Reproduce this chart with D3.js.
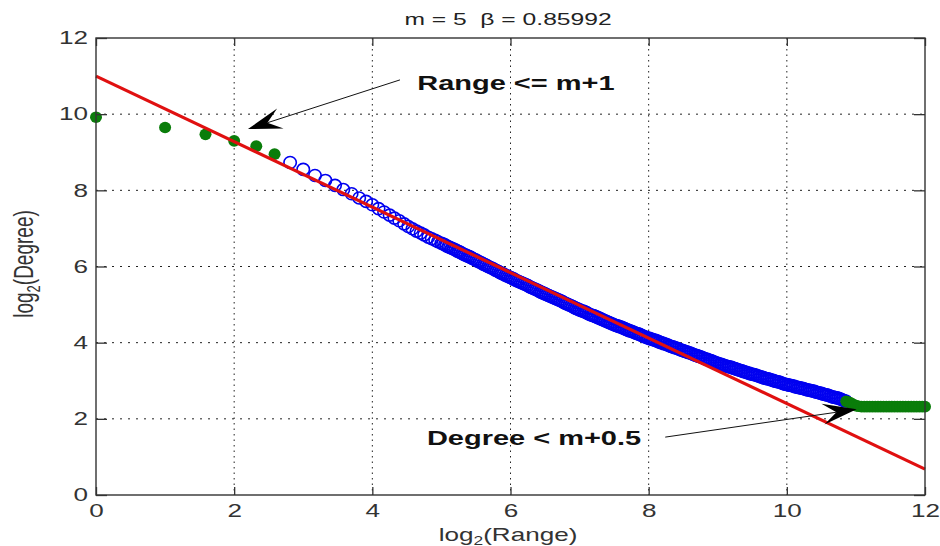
<!DOCTYPE html>
<html><head><meta charset="utf-8">
<script src="https://cdn.jsdelivr.net/npm/d3@7"></script>
<style>
body{margin:0;background:#fff}
svg{display:block;background:#fff}
text{font-family:"Liberation Sans",Arial,sans-serif}
</style></head>
<body><svg id="c" width="940" height="546"></svg>
<script>
// ---- data ----
const xTicks = [0, 2, 4, 6, 8, 10, 12];
const yTicks = [0, 2, 4, 6, 8, 10, 12];
const titleText = "m = 5  \u03b2 = 0.85992";
// Range <= m+1 (green, filled)
const greenHead = [[0,9.92],[1,9.65],[1.585,9.47],[2,9.30],[2.32,9.16],[2.585,8.95]];
// Degree < m+0.5 (green, filled)
const greenTail = [[10.86,2.46],[10.89,2.44],[10.92,2.42],[10.95,2.39],[10.98,2.36],[11.01,2.34],[11.04,2.33],
  [11.08,2.32],[11.12,2.32],[11.16,2.32],[11.2,2.32],[11.24,2.32],[11.28,2.32],[11.32,2.32],[11.36,2.32],[11.4,2.32],
  [11.44,2.32],[11.48,2.32],[11.52,2.32],[11.56,2.32],[11.6,2.32],[11.64,2.32],[11.68,2.32],[11.72,2.32],[11.76,2.32],
  [11.8,2.32],[11.84,2.32],[11.88,2.32],[11.92,2.32],[11.96,2.32],[12,2.32]];
// remaining nodes (blue, open circles)
const blueData = [
 [2.81,8.73],[3.00,8.55],[3.17,8.39],[3.32,8.26],[3.46,8.13],[3.58,8.02],[3.70,7.91],[3.81,7.80],[3.91,7.71],
 [4.00,7.62],[4.09,7.52],[4.17,7.43],[4.25,7.35],[4.32,7.27],[4.39,7.20],[4.46,7.12],[4.52,7.05],[4.58,6.99],
 [4.64,6.93],[4.70,6.88],[4.75,6.83],[4.81,6.77],[4.86,6.73],[4.91,6.69],[4.95,6.65],[5.00,6.61],
 [5.05,6.57],[5.10,6.52],[5.15,6.48],[5.20,6.44],[5.25,6.39],[5.30,6.34],[5.35,6.30],[5.40,6.26],[5.45,6.21],
 [5.50,6.17],[5.55,6.12],[5.60,6.07],[5.65,6.03],[5.70,5.98],[5.75,5.94],[5.80,5.89],[5.85,5.84],[5.90,5.80],
 [5.95,5.75],[6.00,5.71],[6.05,5.67],[6.10,5.62],[6.15,5.58],[6.20,5.54],[6.25,5.50],[6.30,5.45],[6.35,5.41],
 [6.40,5.37],[6.45,5.32],[6.50,5.28],[6.55,5.24],[6.60,5.20],[6.65,5.16],[6.70,5.12],[6.75,5.08],[6.80,5.03],
 [6.85,4.99],[6.90,4.95],[6.95,4.90],[7.00,4.86],[7.05,4.83],[7.10,4.79],[7.15,4.74],[7.20,4.71],[7.25,4.67],
 [7.30,4.63],[7.35,4.59],[7.40,4.55],[7.45,4.51],[7.50,4.47],[7.55,4.44],[7.60,4.41],[7.65,4.37],[7.70,4.33],
 [7.75,4.30],[7.80,4.26],[7.85,4.23],[7.90,4.19],[7.95,4.15],[8.00,4.12],[8.05,4.09],[8.10,4.06],[8.15,4.02],
 [8.20,3.99],[8.25,3.96],[8.30,3.92],[8.35,3.89],[8.40,3.86],[8.45,3.82],[8.50,3.79],[8.55,3.76],[8.60,3.73],
 [8.65,3.69],[8.70,3.66],[8.75,3.63],[8.80,3.59],[8.85,3.56],[8.90,3.53],[8.95,3.49],[9.00,3.46],[9.05,3.43],
 [9.10,3.40],[9.15,3.37],[9.20,3.35],[9.25,3.32],[9.30,3.29],[9.35,3.26],[9.40,3.23],[9.45,3.20],[9.50,3.17],
 [9.55,3.15],[9.60,3.12],[9.65,3.09],[9.70,3.06],[9.75,3.04],[9.80,3.01],[9.85,2.98],[9.90,2.96],[9.95,2.92],
 [10.00,2.90],[10.05,2.88],[10.10,2.86],[10.15,2.83],[10.20,2.81],[10.25,2.79],[10.30,2.76],[10.35,2.74],
 [10.40,2.72],[10.45,2.69],[10.50,2.67],[10.55,2.64],[10.60,2.62],[10.65,2.58],[10.70,2.56],[10.75,2.54],
 [10.80,2.50],[10.85,2.47],
 // denser part of the cloud (between the points above)
 [5.025,6.59],[5.075,6.54],[5.125,6.50],[5.175,6.46],[5.225,6.41],[5.275,6.37],[5.325,6.32],[5.375,6.28],
 [5.425,6.24],[5.475,6.19],[5.525,6.14],[5.575,6.10],[5.625,6.05],[5.675,6.00],[5.725,5.96],[5.775,5.91],
 [5.825,5.87],[5.875,5.82],[5.925,5.77],[5.975,5.73],[6.025,5.69],[6.075,5.64],[6.125,5.60],[6.175,5.56],
 [6.225,5.52],[6.275,5.47],[6.325,5.43],[6.375,5.39],[6.425,5.34],[6.475,5.30],[6.525,5.26],[6.575,5.22],
 [6.625,5.18],[6.675,5.14],[6.725,5.10],[6.775,5.05],[6.825,5.01],[6.875,4.97],[6.925,4.92],[6.975,4.88],
 [7.025,4.84],[7.075,4.81],[7.125,4.76],[7.175,4.72],[7.225,4.69],[7.275,4.65],[7.325,4.61],[7.375,4.57],
 [7.425,4.53],[7.475,4.49],[7.525,4.45],[7.575,4.42],[7.625,4.39],[7.675,4.35],[7.725,4.31],[7.775,4.28],
 [7.825,4.24],[7.875,4.21],[7.925,4.17],[7.975,4.13],[8.025,4.10],[8.075,4.07],[8.125,4.04],[8.175,4.00],
 [8.225,3.97],[8.275,3.94],[8.325,3.90],[8.375,3.87],[8.425,3.84],[8.475,3.80],[8.525,3.77],[8.575,3.74],
 [8.625,3.71],[8.675,3.67],[8.725,3.64],[8.775,3.61],[8.825,3.57],[8.875,3.54],[8.925,3.51],[8.975,3.47],
 [9.025,3.44],[9.075,3.41],[9.125,3.38],[9.175,3.36],[9.225,3.33],[9.275,3.30],[9.325,3.27],[9.375,3.24],
 [9.425,3.21],[9.475,3.18],[9.525,3.16],[9.575,3.13],[9.625,3.10],[9.675,3.07],[9.725,3.05],[9.775,3.02],
 [9.825,2.99],[9.875,2.97],[9.925,2.94],[9.975,2.91],[10.025,2.89],[10.075,2.87],[10.125,2.84],[10.175,2.82],
 [10.225,2.80],[10.275,2.77],[10.325,2.75],[10.375,2.73],[10.425,2.70],[10.475,2.68],[10.525,2.65],[10.575,2.63],
 [10.625,2.60],[10.675,2.57],[10.725,2.55],[10.775,2.52],[10.825,2.48]];
// fitted line log2(Degree) = 11.0 - 0.85992*log2(Range)
const fitLine = [[0, 11.0], [12, 0.68]];
const notes = ["Range <= m+1", "Degree < m+0.5"];

// ---- layout ----
const SX = 1.45; // horizontal stretch of the original figure
const svg = d3.select("#c");
const x = d3.scaleLinear().domain([0, 12]).range([96, 925]);
const y = d3.scaleLinear().domain([0, 12]).range([495, 38]);

// grid
const grid = svg.append("g").attr("stroke", "#222").attr("stroke-width", 1);
grid.selectAll(".gx").data(xTicks.slice(1, -1)).join("line")
  .attr("x1", d => x(d)).attr("x2", d => x(d)).attr("y1", y(12)).attr("y2", y(0))
  .attr("stroke-dasharray", "1.5,4");
grid.selectAll(".gy").data(yTicks.slice(1, -1)).join("line")
  .attr("y1", d => y(d)).attr("y2", d => y(d)).attr("x1", x(0)).attr("x2", x(12))
  .attr("stroke-dasharray", "2,6");

// blue open markers
svg.append("g").selectAll("ellipse").data(blueData).join("ellipse")
  .attr("cx", d => x(d[0])).attr("cy", d => y(d[1])).attr("rx", 6.2).attr("ry", 6)
  .attr("fill", "none").attr("stroke", "#0000f0").attr("stroke-width", 1.6);

// green filled markers
svg.append("g").selectAll("ellipse").data(greenHead.concat(greenTail)).join("ellipse")
  .attr("cx", d => x(d[0])).attr("cy", d => y(d[1])).attr("rx", 6).attr("ry", 5.8)
  .attr("fill", "#0a7d0a");

// red fitted line
svg.append("path").datum(fitLine)
  .attr("d", d3.line().x(d => x(d[0])).y(d => y(d[1])))
  .attr("fill", "none").attr("stroke", "#e01010").attr("stroke-width", 3.2);

// axes box
svg.append("rect").attr("x", x(0)).attr("y", y(12)).attr("width", x(12) - x(0)).attr("height", y(0) - y(12))
  .attr("fill", "none").attr("stroke", "#333").attr("stroke-width", 1.4);

function styleAxis(g) {
  g.select(".domain").remove();
  g.selectAll(".tick line").attr("stroke", "#333").attr("stroke-width", 1.3);
  g.selectAll(".tick text").attr("fill", "#333").attr("font-size", 18)
    .attr("font-family", '"Liberation Sans",Arial,sans-serif');
}
const gb = svg.append("g").attr("transform", `translate(0,${y(0)})`)
  .call(d3.axisBottom(x).tickValues(xTicks).tickSizeInner(-8).tickSizeOuter(0).tickPadding(9.5));
styleAxis(gb);
gb.selectAll(".tick text").attr("transform", `scale(${SX},1)`);
const gl = svg.append("g").attr("transform", `translate(${x(0)},0)`)
  .call(d3.axisLeft(y).tickValues(yTicks).tickSizeInner(-11).tickSizeOuter(0).tickPadding(5.5));
styleAxis(gl);
gl.selectAll(".tick text").attr("transform", `scale(${SX},1)`);
const gt = svg.append("g").attr("transform", `translate(0,${y(12)})`)
  .call(d3.axisTop(x).tickValues(xTicks).tickSizeInner(-8).tickSizeOuter(0).tickFormat(""));
styleAxis(gt);
const gr = svg.append("g").attr("transform", `translate(${x(12)},0)`)
  .call(d3.axisRight(y).tickValues(yTicks).tickSizeInner(-11).tickSizeOuter(0).tickFormat(""));
styleAxis(gr);

// title
svg.append("text").attr("transform", `translate(508,25) scale(${SX},1)`)
  .attr("text-anchor", "middle").attr("font-size", 17).attr("fill", "#222")
  .style("white-space", "pre").text(titleText);

// axis labels
const xl = svg.append("text").attr("transform", `translate(508,541) scale(${SX},1)`)
  .attr("text-anchor", "middle").attr("font-size", 18).attr("fill", "#333");
xl.append("tspan").text("log");
xl.append("tspan").attr("font-size", 12).attr("dy", 4).text("2");
xl.append("tspan").attr("dy", -4).text("(Range)");
const yl = svg.append("text").attr("transform", `translate(33,264) scale(${SX},1) rotate(-90)`)
  .attr("text-anchor", "middle").attr("font-size", 19).attr("fill", "#333");
yl.append("tspan").text("log");
yl.append("tspan").attr("font-size", 13).attr("dy", 5).text("2");
yl.append("tspan").attr("dy", -5).text("(Degree)");

// annotations
function arrow(x0, y0, x1, y1) {
  const dx = x1 - x0, dy = y1 - y0, len = Math.hypot(dx, dy);
  const ux = dx / len, uy = dy / len, nx = -uy, ny = ux;
  const L = 34, Wd = 10.5, N = 0.6 * L;
  svg.append("line").attr("x1", x0).attr("y1", y0).attr("x2", x1 - ux * N).attr("y2", y1 - uy * N)
    .attr("stroke", "#111").attr("stroke-width", 1);
  const p = [[x1, y1], [x1 - ux * L + nx * Wd, y1 - uy * L + ny * Wd], [x1 - ux * N, y1 - uy * N],
             [x1 - ux * L - nx * Wd, y1 - uy * L - ny * Wd]];
  svg.append("path").attr("d", "M" + p.map(q => q.join(",")).join("L") + "Z").attr("fill", "#000");
}
arrow(x(4.40), y(10.90), x(2.20), y(9.61));
arrow(x(8.24), y(1.52), x(11.01), y(2.25));
svg.append("text").attr("transform", `translate(${x(4.65)},${y(10.64)}) scale(${SX},1)`)
  .attr("font-size", 20).attr("font-weight", "bold").attr("fill", "#111").text(notes[0]);
svg.append("text").attr("transform", `translate(${x(4.79)},${y(1.31)}) scale(${SX},1)`)
  .attr("font-size", 20).attr("font-weight", "bold").attr("fill", "#111").text(notes[1]);
</script></body></html>
